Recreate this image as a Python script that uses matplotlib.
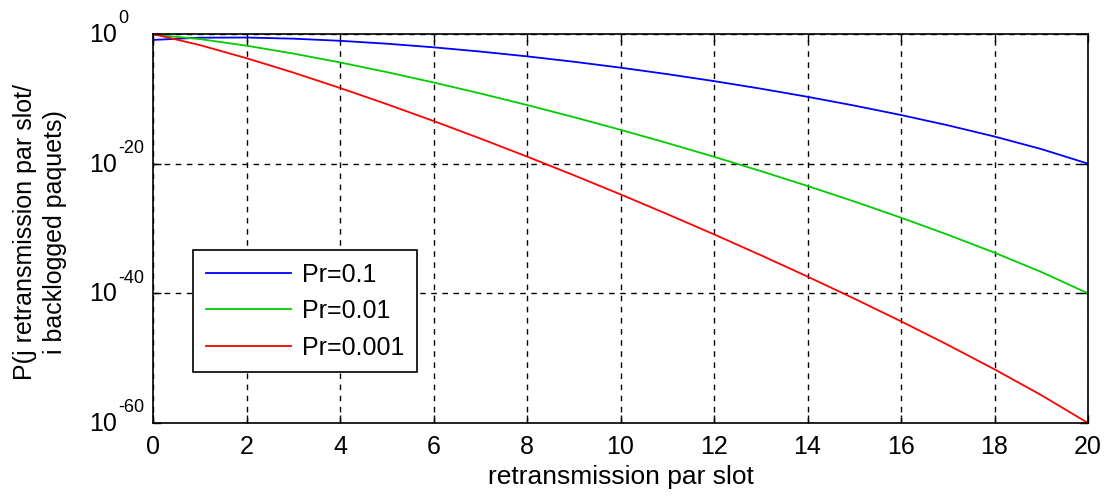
import matplotlib
matplotlib.use("Agg")
import matplotlib.pyplot as plt
import numpy as np
from matplotlib.ticker import FixedLocator, NullFormatter, NullLocator

plt.rcParams['font.family'] = ['Liberation Sans', 'DejaVu Sans']

j = list(range(21))
# log10 of probability
exp_p01 = [-0.915, -0.568, -0.545, -0.721, -1.047, -1.496, -2.053, -2.706, -3.449, -4.278,
           -5.191, -6.187, -7.266, -8.431, -9.687, -11.039, -12.498, -14.080, -15.813, -17.745, -20.0]
exp_p001 = [-0.087, -0.782, -1.800, -3.017, -4.385, -5.875, -7.473, -9.168, -10.952, -12.823,
            -14.777, -16.814, -18.935, -21.142, -23.438, -25.832, -28.332, -30.956, -33.730, -36.703, -40.0]
exp_p0001 = [-0.009, -1.707, -3.729, -5.950, -8.322, -10.817, -13.418, -16.117, -18.905, -21.780,
             -24.737, -27.779, -30.903, -34.114, -37.415, -40.812, -44.317, -47.944, -51.722, -55.699, -60.0]
labels = ['Pr=0.1', 'Pr=0.01', 'Pr=0.001']
colors = ['#0000ff', '#00cc00', '#ff0000']
xticks = [0, 2, 4, 6, 8, 10, 12, 14, 16, 18, 20]
yticks_exp = [0, -20, -40, -60]

fig = plt.figure(figsize=(11.06, 4.96), dpi=100)
fig.patch.set_facecolor('white')
ax = fig.add_axes([153/1106, 1 - 423/496, 935/1106, 389/496])

for e, lab, c in zip([exp_p01, exp_p001, exp_p0001], labels, colors):
    ax.plot(j, [10.0 ** v for v in e], color=c, lw=1.3, label=lab)

ax.set_yscale('log')
ax.set_xlim(0, 20)
ax.set_ylim(1e-60, 1e0)
ax.xaxis.set_major_locator(FixedLocator(xticks))
ax.yaxis.set_major_locator(FixedLocator([10.0 ** e for e in yticks_exp]))
ax.yaxis.set_minor_locator(NullLocator())
ax.yaxis.set_major_formatter(NullFormatter())

px = 72.0 / 100.0
for e in yticks_exp:
    ax.annotate('10', xy=(0, 10.0 ** e), xycoords=('axes fraction', 'data'),
                xytext=(-36 * px, -1 * px), textcoords='offset points',
                ha='right', va='center', fontsize=18, annotation_clip=False)
    ax.annotate('%d' % e, xy=(0, 10.0 ** e), xycoords=('axes fraction', 'data'),
                xytext=(-35 * px, 15 * px), textcoords='offset points',
                ha='left', va='center', fontsize=13, annotation_clip=False)

ax.tick_params(direction='in', length=6, width=1, labelsize=18, top=True, right=True)
ax.tick_params(axis='x', pad=9)
ax.grid(True, color='black', linestyle=(0, (4, 4)), linewidth=1)
for s in ax.spines.values():
    s.set_linewidth(1.2)

ax.set_xlabel('retransmission par slot', fontsize=19, labelpad=4)
ax.set_ylabel('P(j retransmission par slot/\ni backlogged paquets)', fontsize=18,
              linespacing=1.3)
ax.yaxis.set_label_coords(-0.092, 0.49)

leg = ax.legend(loc='lower left', bbox_to_anchor=(0.0428, 0.131), borderaxespad=0,
                fontsize=18, frameon=True, fancybox=False, edgecolor='black',
                handlelength=3.4, handletextpad=0.45, labelspacing=0.5, borderpad=0.5)
leg.get_frame().set_linewidth(1.2)
leg.get_frame().set_alpha(1)

fig.savefig('out.png', dpi=100, facecolor='white')
